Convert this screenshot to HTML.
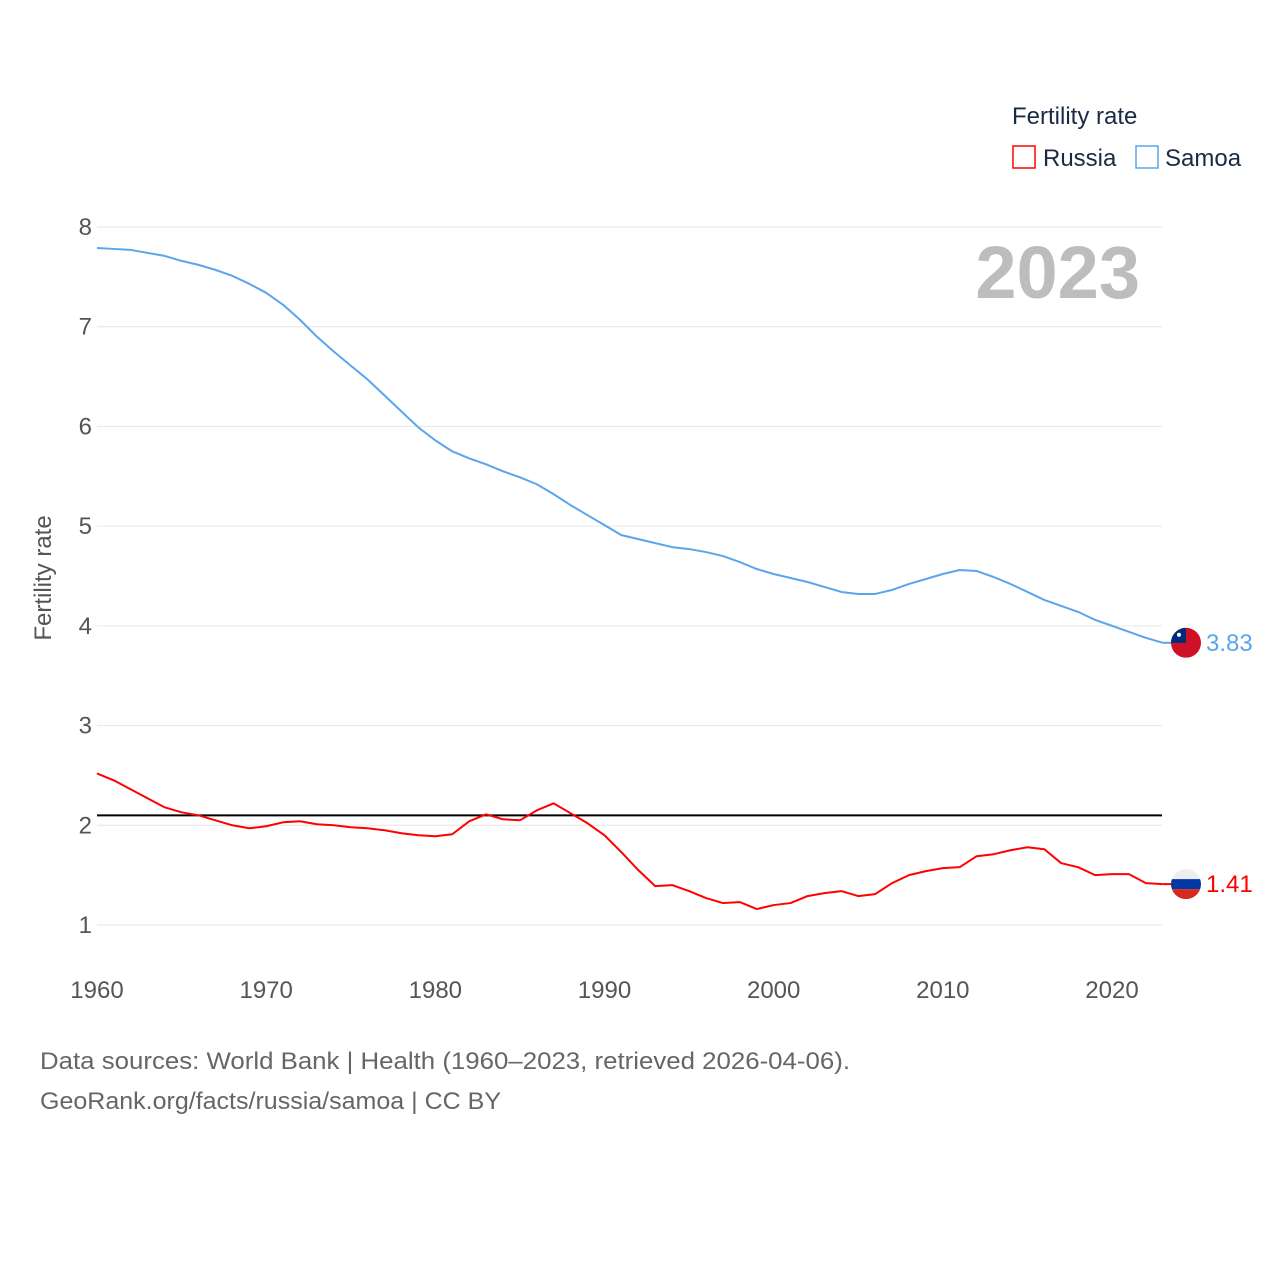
<!DOCTYPE html>
<html><head><meta charset="utf-8"><style>
html,body{margin:0;padding:0;background:#fff}
svg{display:block;font-family:"Liberation Sans",sans-serif}
</style></head><body>
<svg id="chart" width="1280" height="1280" viewBox="0 0 1280 1280">
<g id="grid"></g>
<g id="yticks"></g>
<g id="xticks"></g>
<text x="1140" y="298" text-anchor="end" font-size="74" font-weight="bold" fill="#bdbdbd">2023</text>
<text transform="translate(51,578) rotate(-90)" text-anchor="middle" font-size="24" fill="#555">Fertility rate</text>
<g id="series"></g>
<text x="1012" y="124" font-size="24" fill="#1a2a44">Fertility rate</text>
<g>
<rect x="1013" y="146" width="22" height="22" fill="none" stroke="#ff0000" stroke-width="1.5"/>
<text x="1043" y="166" font-size="24" fill="#1a2a44">Russia</text></g>
<g>
<rect x="1136" y="146" width="22" height="22" fill="none" stroke="#5aa5ec" stroke-width="1.5"/>
<text x="1165" y="166" font-size="24" fill="#1a2a44">Samoa</text></g>
<text x="40" y="1069" font-size="24" fill="#666" textLength="810" lengthAdjust="spacingAndGlyphs">Data sources: World Bank | Health (1960–2023, retrieved 2026-04-06).</text>
<text x="40" y="1109" font-size="24" fill="#666" textLength="461" lengthAdjust="spacingAndGlyphs">GeoRank.org/facts/russia/samoa | CC BY</text>
</svg>
<script>
const years=[];for(let y=1960;y<=2023;y++)years.push(y);
const samoa=[7.79,7.78,7.77,7.74,7.71,7.66,7.62,7.57,7.51,7.43,7.34,7.22,7.07,6.90,6.75,6.61,6.47,6.31,6.15,5.99,5.86,5.75,5.68,5.62,5.55,5.49,5.42,5.32,5.21,5.11,5.01,4.91,4.87,4.83,4.79,4.77,4.74,4.70,4.64,4.57,4.52,4.48,4.44,4.39,4.34,4.32,4.32,4.36,4.42,4.47,4.52,4.56,4.55,4.49,4.42,4.34,4.26,4.20,4.14,4.06,4.00,3.94,3.88,3.83];
const russia=[2.52,2.45,2.36,2.27,2.18,2.13,2.10,2.05,2.00,1.97,1.99,2.03,2.04,2.01,2.00,1.98,1.97,1.95,1.92,1.90,1.89,1.91,2.04,2.11,2.06,2.05,2.15,2.22,2.12,2.02,1.90,1.73,1.55,1.39,1.40,1.34,1.27,1.22,1.23,1.16,1.20,1.22,1.29,1.32,1.34,1.29,1.31,1.42,1.50,1.54,1.57,1.58,1.69,1.71,1.75,1.78,1.76,1.62,1.58,1.50,1.51,1.51,1.42,1.41];
const yTicks=[1,2,3,4,5,6,7,8];
const xTicks=[1960,1970,1980,1990,2000,2010,2020];
const replacement=2.1;
const NS="http://www.w3.org/2000/svg";
const X=v=>97+(v-1960)*(1112-97)/60;
const Y=v=>925-(v-1)*(925-227)/7;
function mk(t,a,p){const e=document.createElementNS(NS,t);for(const k in a)e.setAttribute(k,a[k]);p.appendChild(e);return e;}
const grid=document.getElementById('grid'),yt=document.getElementById('yticks'),xt=document.getElementById('xticks'),ser=document.getElementById('series');
yTicks.forEach(v=>{
 const l=mk('line',{x1:97,x2:1162,y1:Y(v),y2:Y(v),stroke:'#e6e6e6','stroke-width':1},grid);
 
 
 const t=mk('text',{x:92,y:Y(v)+8,'text-anchor':'end','font-size':24,fill:'#555'},yt);t.textContent=v;
 
 
});
xTicks.forEach(v=>{
 const t=mk('text',{x:X(v),y:998,'text-anchor':'middle','font-size':24,fill:'#555'},xt);t.textContent=v;
 
 
});
const ref=mk('line',{x1:97,x2:1162,y1:Y(replacement),y2:Y(replacement),stroke:'#000','stroke-width':2},ser);


function line(vals,col,name){
 const p=mk('polyline',{points:vals.map((v,i)=>X(years[i])+','+Y(v)).join(' '),fill:'none',stroke:col,'stroke-width':2,'stroke-linejoin':'round'},ser);
 
 
 const last=vals[vals.length-1];
 const ly=Y(last);
 mk('line',{x1:X(2023),x2:1172,y1:ly,y2:ly,stroke:col,'stroke-width':2},ser);
 const t=mk('text',{x:1206,y:ly+8,'font-size':24,fill:col},ser);t.textContent=last.toFixed(2);
 
 
 return ly;
}
const sy=line(samoa,'#5aa5ec','samoa');
const ry=line(russia,'#ff0000','russia');
const fs=mk('g',{},ser);


const cs=mk('clipPath',{id:'cs'},fs);mk('circle',{cx:1186,cy:sy,r:15},cs);
const gs=mk('g',{'clip-path':'url(#cs)'},fs);
mk('rect',{x:1171,y:sy-15,width:30,height:30,fill:'#ce1126'},gs);
mk('rect',{x:1171,y:sy-15,width:15,height:15,fill:'#002b7f'},gs);
mk('circle',{cx:1179,cy:sy-8,r:2,fill:'#fff'},gs);
const fr=mk('g',{},ser);


const cp=mk('clipPath',{id:'cr'},fr);mk('circle',{cx:1186,cy:ry,r:15},cp);
const gr=mk('g',{'clip-path':'url(#cr)'},fr);
mk('rect',{x:1171,y:ry-15,width:30,height:10,fill:'#eee'},gr);
mk('rect',{x:1171,y:ry-5,width:30,height:10,fill:'#0039a6'},gr);
mk('rect',{x:1171,y:ry+5,width:30,height:10,fill:'#d52b1e'},gr);
</script>
</body></html>
